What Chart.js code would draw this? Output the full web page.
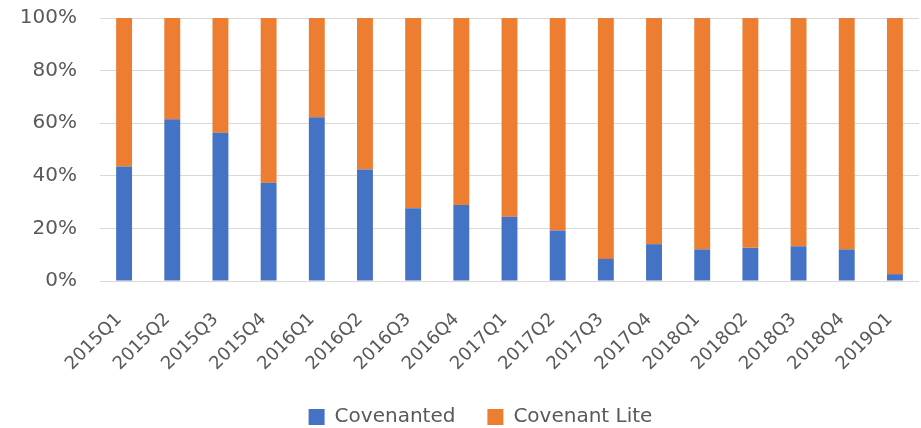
<!DOCTYPE html>
<html>
<head>
<meta charset="utf-8">
<script src="https://cdn.jsdelivr.net/npm/chart.js@4.4.1/dist/chart.umd.min.js"></script>
<style>
  html, body { margin: 0; padding: 0; background: #ffffff; }
  #wrap { width: 921px; height: 428px; position: relative; }
</style>
</head>
<body>
<div id="wrap"><canvas id="chart" width="921" height="428"></canvas></div>
<script>
// Quarterly share of loans by covenant type (percent of total)
const quarters = [
  '2015Q1', '2015Q2', '2015Q3', '2015Q4',
  '2016Q1', '2016Q2', '2016Q3', '2016Q4',
  '2017Q1', '2017Q2', '2017Q3', '2017Q4',
  '2018Q1', '2018Q2', '2018Q3', '2018Q4',
  '2019Q1'
];
const covenanted = [
  43.5, 61.5, 56.4, 37.4,
  62.3, 42.4, 27.7, 28.9,
  24.4, 19.2, 8.4, 14.0,
  12.0, 12.6, 13.2, 12.0,
  2.6
];
const covenantLite = covenanted.map(v => +(100 - v).toFixed(1));
const yTicks = [0, 20, 40, 60, 80, 100];

const textColor = '#595959';
const fontFamily = '"DejaVu Sans", sans-serif';
const legendPad = 32;
const legendFont = 20;

// place the legend row near the bottom edge, a little right of centre,
// and let the rotated category labels run down to the canvas edge
const legendPlace = {
  id: 'legendPlace',
  afterLayout(chart) {
    const L = chart.legend;
    if (L) {
      const h = L.bottom - L.top;
      L.top = 417 - legendPad - legendFont / 2;
      L.bottom = L.top + h;
      L.left += 11;
      L.right += 11;
    }
    const x = chart.scales.x;
    if (x) x.bottom = chart.height;
  }
};

new Chart(document.getElementById('chart'), {
  type: 'bar',
  data: {
    labels: quarters,
    datasets: [
      { label: 'Covenanted', data: covenanted, backgroundColor: '#4472C4' },
      { label: 'Covenant Lite', data: covenantLite, backgroundColor: '#ED7D31' }
    ]
  },
  plugins: [legendPlace],
  options: {
    responsive: false,
    animation: false,
    devicePixelRatio: 1,
    layout: { padding: { left: 20, right: 2, top: 18, bottom: 0 } },
    datasets: { bar: { categoryPercentage: 1, barPercentage: 0.33 } },
    plugins: {
      tooltip: { enabled: false },
      legend: {
        position: 'bottom',
        labels: {
          color: textColor,
          font: { family: fontFamily, size: legendFont },
          boxWidth: 16,
          boxHeight: 16,
          padding: legendPad
        }
      }
    },
    scales: {
      x: {
        stacked: true,
        grid: { display: false, drawTicks: false },
        border: { display: false },
        afterFit: a => { a.paddingLeft = 0; a.paddingRight = 0; a.height = 85; },
        ticks: {
          color: textColor,
          font: { family: fontFamily, size: 18 },
          minRotation: 45,
          maxRotation: 45,
          padding: 28,
          labelOffset: -5
        }
      },
      y: {
        stacked: true,
        min: 0,
        max: 100,
        afterBuildTicks: axis => { axis.ticks = yTicks.map(v => ({ value: v })); },
        afterFit: a => { a.width = 80; a.paddingTop = 0; a.paddingBottom = 0; },
        grid: { color: '#d9d9d9', lineWidth: 1, drawTicks: false },
        border: { display: false },
        ticks: {
          color: textColor,
          font: { family: fontFamily, size: 20 },
          padding: 23,
          callback: v => v + '%'
        }
      }
    }
  }
});
</script>
</body>
</html>
